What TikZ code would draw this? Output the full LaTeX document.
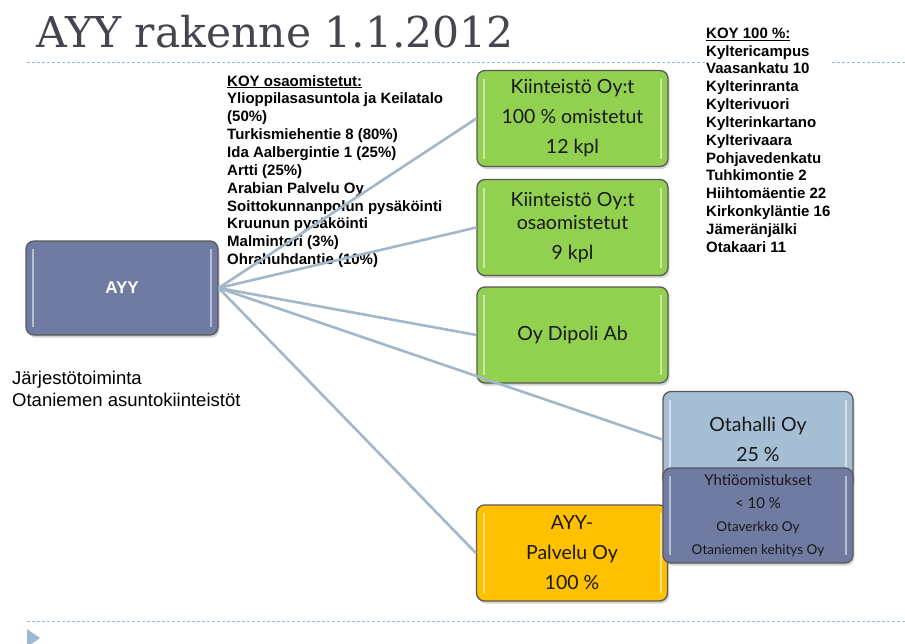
\documentclass[tikz,border=0pt]{standalone}
\usepackage{fontspec}
\setmainfont{Liberation Sans}
\newfontfamily\titlefont{DejaVu Serif}
\newfontfamily\boxfont{Lato}
\usetikzlibrary{shadows}
\definecolor{ayyblue}{HTML}{6F7BA1}
\definecolor{kgreen}{HTML}{92D050}
\definecolor{hallblue}{HTML}{A5BED3}
\definecolor{palorange}{HTML}{FFC000}
\definecolor{linkgray}{HTML}{A3B7C9}
\definecolor{titlegray}{HTML}{45454F}
\definecolor{rulecol}{HTML}{9DB8D3}

\begin{document}
\begin{tikzpicture}[x=1pt,y=-1pt,
  box node/.style={draw=black!65,line width=1.3pt,rounded corners=8pt,
    minimum width=191pt,minimum height=96pt,inner sep=0pt,align=center,text=black!90,
    drop shadow={shadow xshift=1.5pt,shadow yshift=-2.5pt,opacity=.35},
    path picture={\draw[white,opacity=.5,line width=2pt]
      ([xshift=7pt,yshift=-8pt]path picture bounding box.north west) -- ([xshift=7pt,yshift=8pt]path picture bounding box.south west)
      ([xshift=-7pt,yshift=-8pt]path picture bounding box.north east) -- ([xshift=-7pt,yshift=8pt]path picture bounding box.south east);}},
  green node/.style={box node,fill=kgreen,font=\boxfont\fontsize{19.5}{23}\selectfont},
  list node/.style={anchor=north west,align=left,inner sep=0pt,font=\bfseries\fontsize{15}{17.85}\selectfont},
  link/.style={draw=linkgray,line width=2.6pt}]

  \useasboundingbox (0,0) rectangle (905,643);

  % slide rules
  \draw[rulecol,line width=.9pt,dash pattern=on 3pt off 2pt] (27,62) -- (905,62);
  \draw[rulecol,line width=.9pt,dash pattern=on 3pt off 2pt] (27,621) -- (905,621);
  \fill[rulecol] (27,629) -- (40,638) -- (27,647) -- cycle;

  \node[anchor=base west,inner sep=0pt,text=titlegray,font=\titlefont\fontsize{42.5}{48}\selectfont]
    (title) at (36,47) {AYY rakenne 1.1.2012};

  \node[list node] (koy) at (227,75) {\underline{KOY osaomistetut:}\\
    Ylioppilasasuntola ja Keilatalo\\ (50\%)\\ Turkismiehentie 8 (80\%)\\
    Ida Aalbergintie 1 (25\%)\\ Artti (25\%)\\ Arabian Palvelu Oy\\
    Soittokunnanpolun pysäköinti\\ Kruunun pysäköinti\\ Malmintori (3\%)\\
    Ohrahuhdantie (10\%)};
  \node[list node,fill=white] (koyfull) at (706,27.5) {\underline{KOY 100 \%:}\\
    Kyltericampus\\ Vaasankatu 10\\ Kylterinranta\\ Kylterivuori\\
    Kylterinkartano\\ Kylterivaara\\ Pohjavedenkatu\\ Tuhkimontie 2\\
    Hiihtomäentie 22\\ Kirkonkyläntie 16\\ Jämeränjälki\\ Otakaari 11};
  \node[anchor=north west,align=left,inner sep=0pt,font=\fontsize{18.5}{22}\selectfont]
    (ayytext) at (12,371) {Järjestötoiminta\\ Otaniemen asuntokiinteistöt};

  \node[box node,fill=ayyblue,minimum width=192pt,minimum height=94pt,text=white,
    font=\bfseries\fontsize{17}{20}\selectfont] (1) at (122,288) {AYY};
  \node[green node] (2) at (572.5,118.5) {Kiinteistö Oy:t\\[7pt] 100 \% omistetut\\[7pt] 12 kpl};
  \node[green node] (3) at (572.5,227.5) {Kiinteistö Oy:t\\ osaomistetut\\[7pt] 9 kpl};
  \node[green node] (4) at (572.5,335) {Oy Dipoli Ab};
  \node[green node,fill=palorange] (6) at (572,553) {AYY-\\[7pt] Palvelu Oy\\[7pt] 100 \%};
  \node[green node,fill=hallblue,minimum width=190pt] (5) at (758,439.5) {Otahalli Oy\\[7pt] 25 \%};
  \node[box node,fill=ayyblue,minimum width=190pt,minimum height=95pt,
    font=\boxfont\fontsize{15}{23}\selectfont] (7) at (758,515.5)
    {Yhtiöomistukset\\ < 10 \%\\
     {\fontsize{13.5}{21}\selectfont Otaverkko Oy}\\ {\fontsize{13.5}{21}\selectfont Otaniemen kehitys Oy}};

  \path[every edge/.style={draw,link}]
    (1.east) edge (2.west)
    (1.east) edge (3.west)
    (1.east) edge (4.west)
    (1.east) edge (5.west)
    (1.east) edge (6.west);

\end{tikzpicture}
\end{document}
